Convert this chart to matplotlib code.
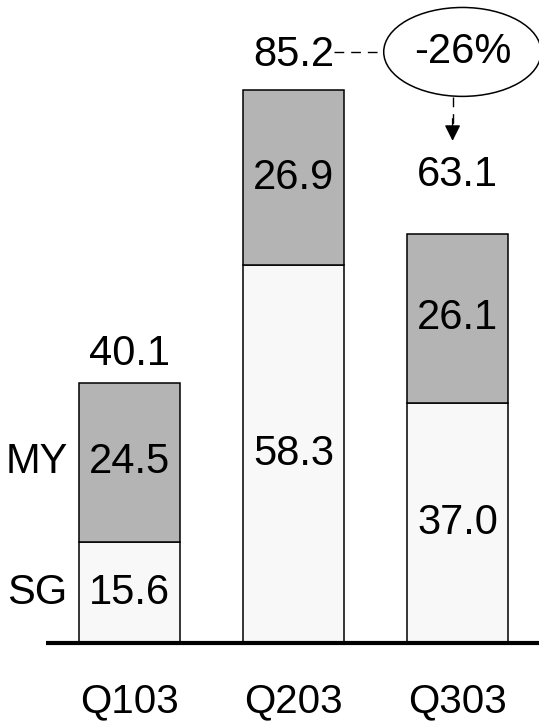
import matplotlib.pyplot as plt
from matplotlib.patches import Ellipse

quarters = ['Q103', 'Q203', 'Q303']
sg = [15.6, 58.3, 37.0]
my = [24.5, 26.9, 26.1]
totals = [40.1, 85.2, 63.1]
change_label = '-26%'

plt.rcParams['font.family'] = ['Liberation Sans', 'DejaVu Sans']

dpi = 100
fig = plt.figure(figsize=(539 / dpi, 725 / dpi), dpi=dpi)
ax = fig.add_axes([0, 0, 1, 1])
ax.set_xlim(-0.79, 2.497)
ax.set_ylim(-12.6, 99.1)
ax.axis('off')

xs = range(len(quarters))
fs = 30
width = 0.62

ax.bar(xs, sg, width=width, color='#f8f8f8', edgecolor='black',
       linewidth=1.1, zorder=2)
ax.bar(xs, my, width=width, bottom=sg, color='#b4b4b4', edgecolor='black',
       linewidth=1.1, zorder=2)

# base line
ax.plot([-0.51, 2.497], [0, 0], color='black', lw=3, zorder=3,
        solid_capstyle='butt')

for i in xs:
    ax.text(i, sg[i] / 2, '%.1f' % sg[i], ha='center', va='center',
            fontsize=fs)
    ax.text(i, sg[i] + my[i] / 2, '%.1f' % my[i], ha='center', va='center',
            fontsize=fs)
    ax.text(i, -10.7, quarters[i], ha='center', va='baseline', fontsize=29)

ax.text(0, totals[0] + 4.4, '%.1f' % totals[0], ha='center', va='center',
        fontsize=fs)
ax.text(1, totals[1] + 5.5, '%.1f' % totals[1], ha='center', va='center',
        fontsize=fs)
ax.text(2, totals[2] + 9.0, '%.1f' % totals[2], ha='center', va='center',
        fontsize=fs)

ax.text(-0.564, sg[0] + my[0] / 2, 'MY', ha='center', va='center',
        fontsize=fs)
ax.text(-0.564, sg[0] / 2, 'SG', ha='center', va='center', fontsize=fs)

# change bubble
ell = Ellipse((2.03, 91.1), 0.96, 13.7, facecolor='white',
              edgecolor='black', lw=1.1, clip_on=False, zorder=4)
ax.add_patch(ell)
ax.text(2.03, 91.1, change_label, ha='center', va='center', fontsize=fs,
        zorder=5)

ax.plot([1.245, 1.55], [91.1, 91.1], color='black', lw=1,
        linestyle=(0, (7, 5)))
ax.plot([1.97, 1.97], [84.1, 80.0], color='black', lw=1,
        linestyle=(0, (7, 5)))
ax.annotate('', xy=(1.97, 77.4), xytext=(1.97, 80.8),
            arrowprops=dict(arrowstyle='-|>', color='black', lw=1,
                            mutation_scale=24, shrinkA=0, shrinkB=0))

fig.savefig('out.png', dpi=dpi)
